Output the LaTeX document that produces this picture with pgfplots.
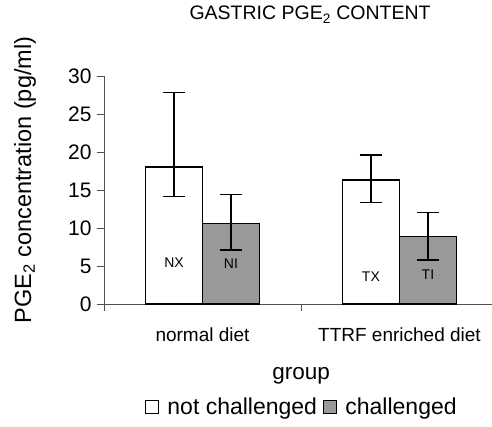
\documentclass[border=0pt]{standalone}
\usepackage{fontspec}
\setmainfont{Liberation Sans}
\usepackage{pgfplots}
\pgfplotsset{compat=1.18}
\usepackage{pgfplotstable}
\definecolor{barg}{RGB}{153,153,153}
\definecolor{axg}{RGB}{80,80,80}

\pgfplotstableread{
x y ep em
0 18.0 9.8 3.9
1 16.3 3.3 2.9
}\notchal
\pgfplotstableread{
x y ep em
0 10.6 3.8 3.5
1 8.9 3.1 3.1
}\chal
\pgfplotstableread{
x y lab
-0.1447 5.4 NX
0.1447 5.3 NI
0.8553 3.6 TX
1.1447 3.8 TI
}\labs

\begin{document}
\begin{tikzpicture}
\path[use as bounding box] (0,0) rectangle (492pt,426pt);
\begin{axis}[
 at={(104pt,122pt)}, anchor=south west,
 scale only axis, width=388pt, height=228pt,
 xmin=-0.5, xmax=1.47, ymin=0, ymax=30,
 ybar, bar width=57pt,
 axis x line=bottom, axis y line=left,
 axis line style={-, draw=axg, line width=0.9pt},
 ytick={0,5,...,30},
 xtick={-0.5,0.5,1.5},
 xticklabels={normal diet, TTRF enriched diet, },
 tick align=outside, major tick length=7pt,
 tick style={draw=axg, line width=0.9pt},
 /pgf/number format/assume math mode=true,
 yticklabel style={font=\fontsize{21}{21}\selectfont, xshift=-2pt},
 xticklabel style={font=\fontsize{19}{19}\selectfont, anchor=base, xshift=98.5pt, yshift=-30pt},
 title={GASTRIC PGE\textsubscript{2} CONTENT},
 title style={at={(axis description cs:0.531,1)}, anchor=base, yshift=50pt, font=\fontsize{19.5}{19.5}\selectfont},
 ylabel={PGE\textsubscript{2} concentration (pg/ml)},
 ylabel style={at={(axis description cs:-0.2036,0.544)}, anchor=center, font=\fontsize{23.5}{23.5}\selectfont},
 xlabel={group},
 xlabel style={at={(axis description cs:0.508,-0.333)}, anchor=base, font=\fontsize{22.5}{22.5}\selectfont},
 legend style={at={(axis description cs:0.51,-0.452)}, anchor=center, draw=none, fill=none,
   legend columns=2, font=\fontsize{23}{23}\selectfont,
   /tikz/every even column/.append style={column sep=4pt}},
 legend image code/.code={\draw[#1, line width=1.2pt] (0pt,-6.5pt) rectangle (13pt,6.5pt); \path (19pt,0pt);},
]
\addplot[bar shift=-28.5pt, fill=white, draw=black, line width=1.5pt,
  error bars/.cd, y dir=both, y explicit,
  error bar style={line width=1.3pt, black},
  error mark options={rotate=90, mark size=11pt, line width=1.3pt, black}]
  table[x=x, y=y, y error plus=ep, y error minus=em] {\notchal};
\addlegendentry{not challenged}
\addplot[bar shift=28.5pt, fill=barg, draw=black, line width=1.5pt,
  error bars/.cd, y dir=both, y explicit,
  error bar style={line width=1.3pt, black},
  error mark options={rotate=90, mark size=11pt, line width=1.3pt, black}]
  table[x=x, y=y, y error plus=ep, y error minus=em] {\chal};
\addlegendentry{challenged}
\addplot[bar shift=0pt, draw=none, fill=none, forget plot, nodes near coords, point meta=explicit symbolic,
  nodes near coords align={center},
  nodes near coords style={anchor=center, font=\fontsize{14}{14}\selectfont, text=black}]
  table[x=x, y=y, meta=lab] {\labs};
\end{axis}
\end{tikzpicture}
\end{document}
